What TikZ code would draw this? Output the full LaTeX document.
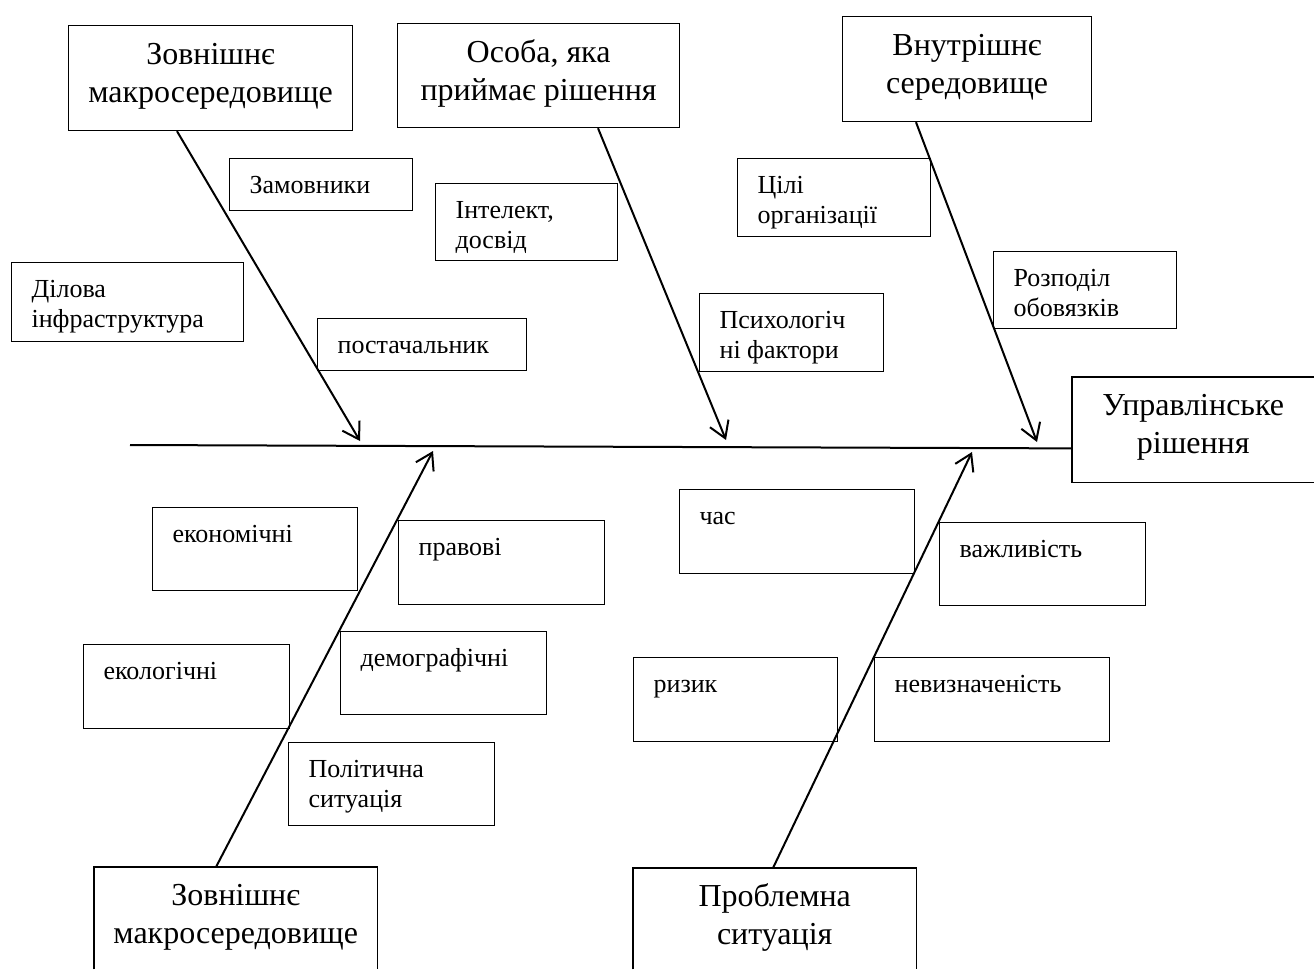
\documentclass[tikz,border=0pt]{standalone}
\usepackage{fontspec}
\setmainfont{Liberation Serif}
\usetikzlibrary{arrows.meta,calc}

\newcommand\bigtext[3]{\parbox[c][#2][t]{#1}{\fontsize{32}{38}\selectfont\centering\vspace*{12pt}\strut #3\par}}
\newcommand\smalltext[3]{\parbox[c][#2][t]{#1}{\fontsize{26}{30}\selectfont\raggedright\leftskip=20pt\relax\vspace*{14pt}\strut #3\par}}

\tikzset{
  bigbox/.style={draw, line width=1.2pt, inner sep=0pt, anchor=north west},
  openbox/.style={inner sep=0pt, anchor=north west},
  lblbox/.style={draw, line width=1.2pt, inner sep=0pt, anchor=north west},
  openedge/.style={line width=1.2pt},
  arr/.style={line width=2pt, -{Straight Barb[length=16pt,width=20pt]}},
  spine/.style={line width=2pt}
}

\begin{document}
\begin{tikzpicture}[x=1pt,y=-1pt]
\useasboundingbox (0,0) rectangle (1314,969);

% main category boxes
\node[bigbox] (A) at (68,25) {\bigtext{284pt}{105pt}{Зовнішнє\\макросередовище}};
\node[bigbox] (B) at (397,23) {\bigtext{282pt}{104pt}{Особа, яка\\приймає рішення}};
\node[bigbox] (C) at (842,16) {\bigtext{249pt}{105pt}{Внутрішнє\\середовище}};
\node[openbox] (M) at (1072,377) {\bigtext{242pt}{105pt}{Управлінське\\рішення}};
\draw[openedge] (M.north east) -- (M.north west) -- (M.south west) -- (M.south east);
\node[openbox] (D) at (94,867) {\bigtext{283pt}{102pt}{Зовнішнє\\макросередовище}};
\draw[openedge] (D.south west) -- (D.north west) -- (D.north east) -- (D.south east);
\node[openbox] (E) at (633,868) {\bigtext{283pt}{101pt}{Проблемна\\ситуація}};
\draw[openedge] (E.south west) -- (E.north west) -- (E.north east) -- (E.south east);

% factor boxes
\node[lblbox] (z1) at (229,158) {\smalltext{183pt}{52pt}{Замовники}};
\node[lblbox] (z2) at (435,183) {\smalltext{182pt}{77pt}{Інтелект,\\досвід}};
\node[lblbox] (z3) at (11,262) {\smalltext{232pt}{79pt}{Ділова\\інфраструктура}};
\node[lblbox] (z4) at (317,318) {\smalltext{209pt}{52pt}{постачальник}};
\node[lblbox] (z5) at (737,158) {\smalltext{193pt}{78pt}{Цілі\\організації}};
\node[lblbox] (z6) at (993,251) {\smalltext{183pt}{77pt}{Розподіл\\обовязків}};
\node[lblbox] (z7) at (699,293) {\smalltext{184pt}{78pt}{Психологіч\\ні фактори}};
\node[lblbox] (z8) at (152,507) {\smalltext{205pt}{83pt}{економічні}};
\node[lblbox] (z9) at (398,520) {\smalltext{206pt}{84pt}{правові}};
\node[lblbox] (z10) at (679,489) {\smalltext{235pt}{84pt}{час}};
\node[lblbox] (z11) at (939,522) {\smalltext{206pt}{83pt}{важливість}};
\node[lblbox] (z12) at (83,644) {\smalltext{206pt}{84pt}{екологічні}};
\node[lblbox] (z13) at (340,631) {\smalltext{206pt}{83pt}{демографічні}};
\node[lblbox] (z14) at (633,657) {\smalltext{204pt}{84pt}{ризик}};
\node[lblbox] (z15) at (874,657) {\smalltext{235pt}{84pt}{невизначеність}};
\node[lblbox] (z16) at (288,742) {\smalltext{206pt}{83pt}{Політична\\ситуація}};

% spine
\coordinate (s0) at (130,445);
\draw[spine] (s0) -- ($(M.south west)+(0,-34)$);

% arrow tips on the spine
\coordinate (tA) at (360,441);
\coordinate (tB) at (726,440);
\coordinate (tC) at (1037,442);
\coordinate (tD) at (433,451);
\coordinate (tE) at (972,452);

\draw[arr] ($(A.south west)+(109,0)$) -- (tA);
\draw[arr] ($(B.south west)+(201,0)$) -- (tB);
\draw[arr] ($(C.south west)+(74,0)$) -- (tC);
\draw[arr] ($(D.north west)+(122,0)$) -- (tD);
\draw[arr] ($(E.north west)+(140,0)$) -- (tE);
\end{tikzpicture}
\end{document}
